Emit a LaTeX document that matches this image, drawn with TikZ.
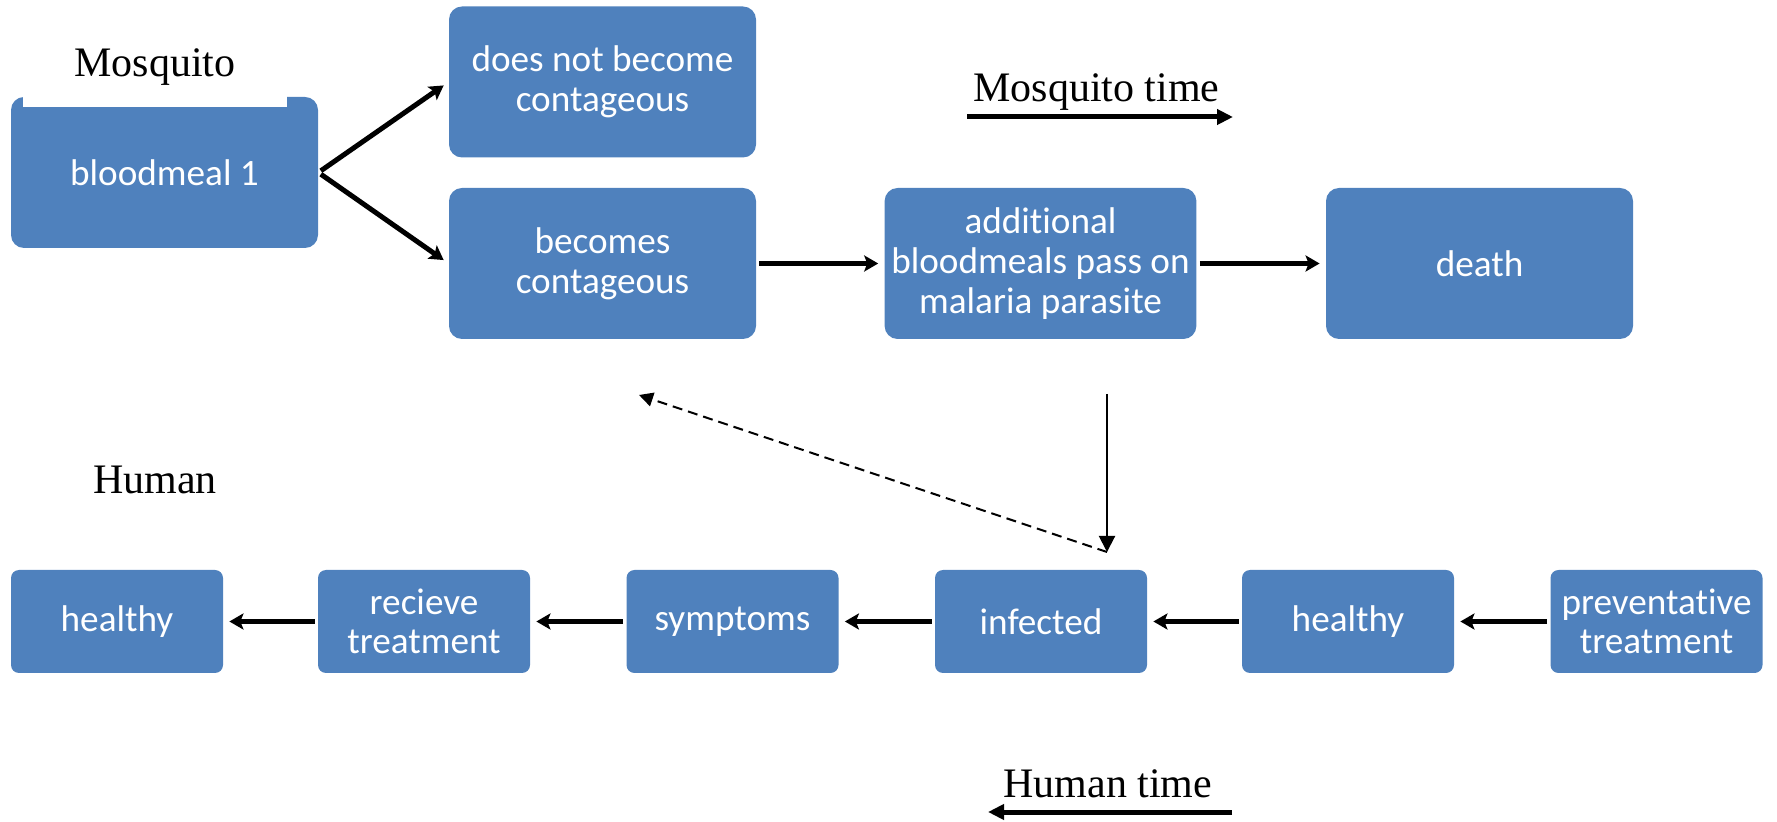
\documentclass[tikz,border=0pt]{standalone}
\usepackage{fontspec}
\setmainfont{Liberation Serif}
\newfontfamily\boxfont{Carlito}[Ligatures=CommonOff]
\usetikzlibrary{arrows.meta}
\definecolor{boxblue}{HTML}{4F81BD}

\begin{document}
\begin{tikzpicture}[x=0.5pt, y=-0.5pt,
	mbox/.style={fill=boxblue, text=white, rounded corners=6.5pt, minimum width=153.5pt, minimum height=75.5pt, align=center, font=\boxfont\fontsize{18.6}{19.8}\selectfont},
	hbox/.style={mbox, rounded corners=4pt, minimum width=106pt, minimum height=51.5pt},
	lab/.style={font=\fontsize{21}{25}\selectfont, inner sep=0pt},
	flow/.style={line width=2.5pt, -{Stealth[length=7pt, width=8pt, inset=1.5pt]}, shorten >=3pt, shorten <=1.5pt},
	timeline/.style={line width=2.5pt, -{Triangle[length=8pt, width=7.5pt]}}]
			\useasboundingbox (0,0) rectangle (1777,822);
			\node[mbox] (meal) at (164.5,172.5) {bloodmeal 1};
			\node[lab, fill=white, anchor=base, minimum width=132pt, text depth=0pt, inner ysep=15pt] (mosq) at (155,77) {Mosquito};
			\node[mbox] (nocont) at (602.5,82) {does not become\\contageous};
			\node[mbox] (cont) at (602.5,263.5) {becomes\\contageous};
			\node[mbox] (pass) at (1040.5,263.5) {additional\\bloodmeals pass on\\malaria parasite};
			\node[mbox] (death) at (1479.5,263.5) {death};
			\node[hbox] (well2) at (117,621.5) {healthy};
			\node[hbox] (treat) at (424,621.5) {recieve\\treatment};
			\node[hbox] (sympt) at (732.5,621.5) {symptoms};
			\node[hbox] (infect) at (1041,621.5) {infected};
			\node[hbox] (well1) at (1348,621.5) {healthy};
			\node[hbox] (prevent) at (1656.5,621.5) {preventative\\treatment};
			\node[lab, anchor=base] (human) at (155,494) {Human};
			\node[lab, anchor=base west] (mtime) at (973,102) {Mosquito time};
			\node[lab, anchor=base west] (htime) at (1003,797) {Human time};
			\draw[flow] (meal.east) -- (nocont.west);
			\draw[flow] (meal.east) -- (cont.west);
			\draw[flow] (cont.east) -- (pass.west);
			\draw[flow] (pass.east) -- (death.west);
			\draw[flow] (prevent.west) -- (well1.east);
			\draw[flow] (well1.west) -- (infect.east);
			\draw[flow] (infect.west) -- (sympt.east);
			\draw[flow] (sympt.west) -- (treat.east);
			\draw[flow] (treat.west) -- (well2.east);
			\coordinate (bitetop) at (1107,394);
			\coordinate (bite) at (1107,552);
			\coordinate (back) at (639,395);
			\draw[line width=1pt, -{Triangle[length=8pt, width=8pt]}] (bitetop) -- (bite);
			\draw[line width=1pt, dash pattern=on 5pt off 3pt, -{Triangle[length=7pt, width=7pt]}] (bite) -- (back);
			\coordinate (mstart) at (967,117);
			\coordinate (mend) at (1233,117);
			\coordinate (hstart) at (1232,812);
			\coordinate (hend) at (988,812);
			\draw[timeline] (mstart) -- (mend);
			\draw[timeline] (hstart) -- (hend);
\end{tikzpicture}
\end{document}
